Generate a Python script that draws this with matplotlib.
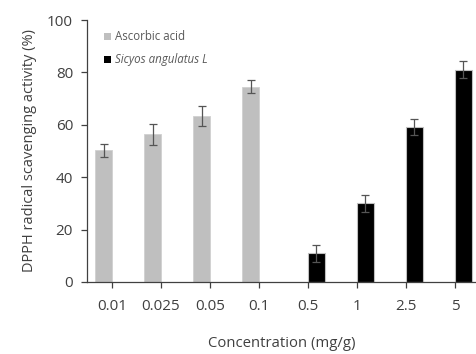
import matplotlib
matplotlib.use("Agg")
import matplotlib.pyplot as plt
import numpy as np

plt.rcParams['font.family'] = ['Open Sans', 'DejaVu Sans']

categories = ["0.01", "0.025", "0.05", "0.1", "0.5", "1", "2.5", "5"]
ascorbic = [50.2, 56.3, 63.5, 74.5, 0, 0, 0, 0]
ascorbic_err = [2.5, 4.0, 3.8, 2.5, 0, 0, 0, 0]
sicyos = [0, 0, 0, 0, 11.0, 30.0, 59.2, 81.0]
sicyos_err = [0, 0, 0, 0, 3.2, 3.3, 3.0, 3.3]

txt = '#404040'
fig = plt.figure(figsize=(4.76, 3.54), dpi=100)
ax = fig.add_axes([0.1828, 0.2034, 0.8172, 0.7401])
x = np.arange(len(categories))
w = 0.34
ma = np.array(ascorbic) > 0
ms = np.array(sicyos) > 0
ekw = dict(ecolor='#555555', elinewidth=0.9, capsize=3, capthick=0.9)

ax.bar(x[ma] - w / 2, np.array(ascorbic)[ma], w, color='#bfbfbf', edgecolor='#d0d0d0', linewidth=0.6,
       yerr=np.array(ascorbic_err)[ma], error_kw=ekw, label='Ascorbic acid')
ax.bar(x[ms] + w / 2, np.array(sicyos)[ms], w, color='black', edgecolor='#bfbfbf', linewidth=0.8,
       yerr=np.array(sicyos_err)[ms], error_kw=ekw, label='Sicyos angulatus L')

ax.set_xlim(-0.51, 7.43)
ax.set_ylim(0, 100)
ax.set_yticks([0, 20, 40, 60, 80, 100])
ax.set_xticks(x)
ax.set_xticklabels(categories)
ax.spines['top'].set_visible(False)
ax.spines['right'].set_visible(False)
for s in ['left', 'bottom']:
    ax.spines[s].set_color('#404040')
    ax.spines[s].set_linewidth(0.9)
ax.tick_params(axis='both', direction='out', length=4, width=0.9, color='#404040', labelsize=11, labelcolor=txt)
ax.tick_params(axis='x', pad=8)
ax.tick_params(axis='y', pad=6)
ax.set_ylabel('DPPH radical scavenging activity (%)', fontsize=10.5, color=txt, labelpad=7)
ax.set_xlabel('Concentration (mg/g)', fontsize=10.7, color=txt, labelpad=16)

leg = ax.legend(loc='upper left', bbox_to_anchor=(0.018, 1.0), frameon=False, fontsize=8.3,
                handlelength=0.55, handleheight=0.55, handletextpad=0.4, labelspacing=0.85)
for t in leg.get_texts():
    t.set_color('#595959')
leg.get_texts()[1].set_style('italic')
for h in leg.legend_handles:
    h.set_edgecolor('none')

fig.savefig('out.png', dpi=100)
